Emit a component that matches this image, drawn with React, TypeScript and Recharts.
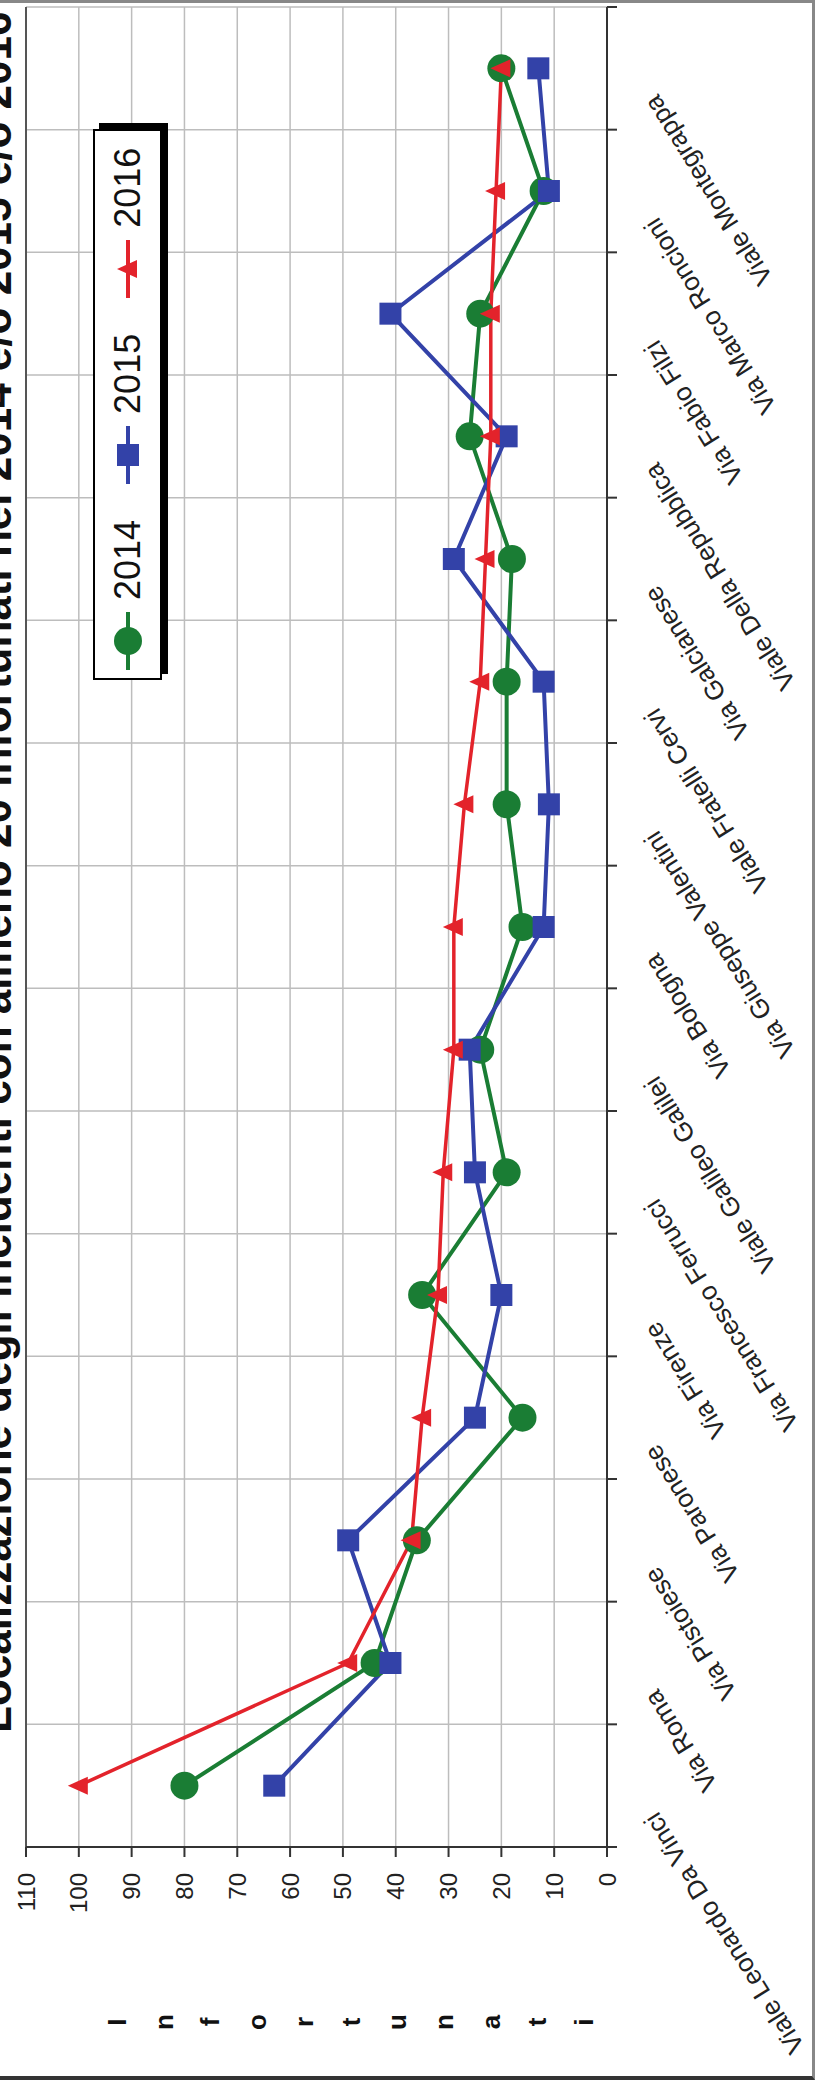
import React from 'react';
import { LineChart, Line, XAxis, YAxis, CartesianGrid, ReferenceLine } from 'recharts';

// original chart is landscape; it is drawn 2082x815 and turned 90deg to the left
const W = 2082;
const H = 815;
const FONT = '"Liberation Sans", Arial, sans-serif';

const GREEN = '#1a7d34';
const BLUE = '#3342a8';
const RED = '#e3232b';

const categories = [
  'Viale Leonardo Da Vinci',
  'Via Roma',
  'Via Pistoiese',
  'Via Paronese',
  'Via Firenze',
  'Via Francesco Ferrucci',
  'Viale Galileo Galilei',
  'Via Bologna',
  'Via Giuseppe Valentini',
  'Viale Fratelli Cervi',
  'Via Galcianese',
  'Viale Della Repubblica',
  'Via Fabio Filzi',
  'Via Marco Roncioni',
  'Viale Montegrappa',
];
const values2014 = [80, 44, 36, 16, 35, 19, 24, 16, 19, 19, 18, 26, 24, 12, 20];
const values2015 = [63, 41, 49, 25, 20, 25, 26, 12, 11, 12, 29, 19, 41, 11, 13];
const values2016 = [100, 49, 37, 35, 32, 31, 29, 29, 27, 24, 23, 22, 22, 21, 20];
const valueTicks = [0, 10, 20, 30, 40, 50, 60, 70, 80, 90, 100, 110];
const bandEdges = categories.map((_, i) => i).concat(categories.length);
const bandCenters = categories.map((_, i) => i + 0.5);

const title = 'Localizzazione degli incidenti con almeno 20 infortunati nel 2014 e/o 2015 e/o 2016';
const yLabel = 'Infortunati';

const series = [
  { key: 'v2014', name: '2014', color: GREEN, marker: 'circle' },
  { key: 'v2015', name: '2015', color: BLUE, marker: 'square' },
  { key: 'v2016', name: '2016', color: RED, marker: 'triangle' },
];

const data = categories.map((name, i) => ({
  pos: i + 0.5,
  name,
  v2014: values2014[i],
  v2015: values2015[i],
  v2016: values2016[i],
}));

function Marker({ kind, cx, cy, color }: any) {
  if (kind === 'circle') return <circle cx={cx} cy={cy} r={14} fill={color} />;
  if (kind === 'square') return <rect x={cx - 11} y={cy - 11} width={22} height={22} fill={color} />;
  return <polygon points={`${cx},${cy - 11} ${cx + 9},${cy + 9} ${cx - 9},${cy + 9}`} fill={color} />;
}

const makeDot = (kind: string, color: string) => (p: any) => (
  <g key={`${kind}-${p.index}`}>
    <Marker kind={kind} cx={p.cx} cy={p.cy} color={color} />
  </g>
);

const EmptyTick = () => <g />;

function CategoryTick({ x, y, payload }: any) {
  const name = categories[Math.floor(payload.value)];
  return (
    <text
      transform={`translate(${x - 25},${y + 50}) rotate(-32)`}
      textAnchor="end"
      fontSize={26}
      fontFamily={FONT}
      fill="#222"
    >
      {name}
    </text>
  );
}

function ChartLegend() {
  return (
    <div
      style={{
        position: 'absolute',
        left: 1402,
        top: 93,
        width: 551,
        height: 69,
        boxSizing: 'border-box',
        border: '2px solid #000',
        boxShadow: '6px 6px 0 #000',
        background: '#fff',
        display: 'flex',
        alignItems: 'center',
        paddingLeft: 8,
        fontFamily: FONT,
        fontSize: 36,
        color: '#111',
      }}
    >
      {series.map((s) => (
        <div key={s.key} style={{ display: 'flex', alignItems: 'center', marginRight: 36 }}>
          <svg width={58} height={32}>
            <line x1={0} y1={16} x2={58} y2={16} stroke={s.color} strokeWidth={4} />
            <Marker kind={s.marker} cx={29} cy={16} color={s.color} />
          </svg>
          <span style={{ marginLeft: 12 }}>{s.name}</span>
        </div>
      ))}
    </div>
  );
}

export default function App() {
  return (
    <div
      style={{
        position: 'absolute',
        left: 0,
        top: 0,
        width: H,
        height: W,
        overflow: 'hidden',
        background: '#fff',
      }}
    >
      <div
        style={{
          position: 'absolute',
          left: 0,
          top: 0,
          width: W,
          height: H,
          transformOrigin: '0 0',
          transform: `translate(0px, ${W}px) rotate(-90deg)`,
        }}
      >
        {/* outer frame */}
        <div
          style={{
            position: 'absolute',
            left: 2,
            top: -10,
            width: 2080,
            height: 825,
            boxSizing: 'border-box',
            borderLeft: '4px solid #333',
            borderRight: '3px solid #888',
            borderBottom: '3px solid #888',
          }}
        />
        <svg
          width={W}
          height={H}
          style={{ position: 'absolute', left: 0, top: 0, overflow: 'visible' }}
        >
          <text x={349} y={11} fontSize={44} fontWeight="bold" fontFamily={FONT} fill="#111">
            {title}
          </text>
          {yLabel.split('').map((ch, k) => (
            <text
              key={k}
              x={60}
              y={117 + k * 46.7 + 9}
              textAnchor="middle"
              fontSize={26}
              fontWeight="bold"
              fontFamily={FONT}
              fill="#111"
            >
              {ch}
            </text>
          ))}
        </svg>
        <div style={{ position: 'absolute', left: 0, top: 0 }}>
          <LineChart width={W} height={H} data={data} margin={{ top: 26, right: 7, left: 0, bottom: 0 }}>
            <CartesianGrid stroke="#bdbdbd" strokeWidth={1.5} syncWithTicks />
            <XAxis
              dataKey="pos"
              type="number"
              domain={[0, categories.length]}
              ticks={bandEdges}
              interval={0}
              tick={EmptyTick}
              tickSize={10}
              height={1}
              axisLine={{ stroke: '#333', strokeWidth: 2 }}
              tickLine={{ stroke: '#333', strokeWidth: 2 }}
            />
            <XAxis
              xAxisId="labels"
              dataKey="pos"
              type="number"
              domain={[0, categories.length]}
              ticks={bandCenters}
              interval={0}
              tick={<CategoryTick />}
              tickSize={0}
              tickMargin={0}
              height={207}
              axisLine={false}
              tickLine={false}
            />
            <YAxis
              type="number"
              domain={[0, 110]}
              ticks={valueTicks}
              interval={0}
              width={235}
              tickSize={10}
              tickMargin={16}
              tick={{ fontSize: 24, fill: '#222', fontFamily: FONT }}
              axisLine={{ stroke: '#333', strokeWidth: 2 }}
              tickLine={{ stroke: '#333', strokeWidth: 2 }}
            />
            <ReferenceLine y={110} stroke="#555" strokeWidth={2} />
            <Line
              dataKey="v2014"
              stroke={GREEN}
              strokeWidth={4}
              dot={makeDot('circle', GREEN)}
              activeDot={false}
              isAnimationActive={false}
            />
            <Line
              dataKey="v2015"
              stroke={BLUE}
              strokeWidth={4}
              dot={makeDot('square', BLUE)}
              activeDot={false}
              isAnimationActive={false}
            />
            <Line
              dataKey="v2016"
              stroke={RED}
              strokeWidth={3.5}
              dot={makeDot('triangle', RED)}
              activeDot={false}
              isAnimationActive={false}
            />
          </LineChart>
        </div>
        <ChartLegend />
      </div>
    </div>
  );
}
